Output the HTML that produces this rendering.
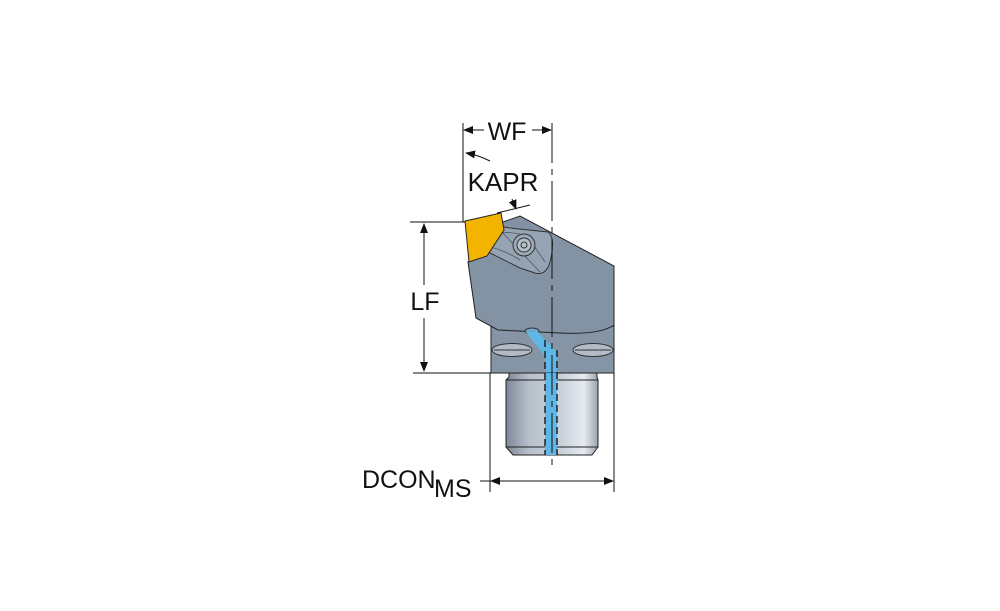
<!DOCTYPE html>
<html><head><meta charset="utf-8"><style>
body{margin:0;background:#fff}
svg{display:block}
text{font-family:"Liberation Sans",Arial,sans-serif;fill:#111}
</style></head><body>
<svg width="1000" height="611" viewBox="0 0 1000 611" xmlns="http://www.w3.org/2000/svg">
<defs>
<linearGradient id="sh" x1="0" x2="1">
<stop offset="0" stop-color="#7d8898"/><stop offset="0.25" stop-color="#b8c0cb"/>
<stop offset="0.6" stop-color="#c9d0d9"/><stop offset="0.85" stop-color="#e6ebf0"/><stop offset="1" stop-color="#9aa4b0"/>
</linearGradient>
<marker id="ar" markerWidth="10" markerHeight="8" refX="9" refY="4" orient="auto" markerUnits="userSpaceOnUse">
<path d="M0,0 L10,4 L0,8 Z" fill="#111"/></marker>
</defs>
<rect x="491" y="326" width="123" height="47" fill="#8595a6" stroke="#222" stroke-width="1"/>
<ellipse cx="512" cy="350" rx="20" ry="6.5" fill="#b1bcc8" stroke="#333"/>
<line x1="494" y1="350" x2="530" y2="350" stroke="#333"/>
<ellipse cx="593" cy="350" rx="20" ry="6.5" fill="#b1bcc8" stroke="#333"/>
<line x1="575" y1="350" x2="611" y2="350" stroke="#333"/>
<path d="M468,262 L503,222 L520,216 L614,266 L614,325 Q600,335 560,333 L498,330 L476,318 Z" fill="#8493a4" stroke="#222" stroke-width="1"/>
<path d="M480,234 Q492,224 510,228 L548,232 Q556,238 550,262 Q546,276 535,273 L520,268 Q500,258 484,250 Q474,242 480,234 Z" fill="#95a3b3" stroke="#333" stroke-width="1"/>
<path d="M484,236 Q500,230 520,234 M486,246 Q505,250 520,260 M500,230 L540,272 M530,240 L545,262" stroke="#4a5867" fill="none" stroke-width="0.8"/>
<ellipse cx="487" cy="240" rx="9" ry="5" fill="#b5c0cb" stroke="#333"/>
<circle cx="524" cy="245" r="11" fill="#9aa8b6" stroke="#333"/>
<circle cx="524" cy="245" r="7" fill="#b6c1cc" stroke="#333"/>
<circle cx="524" cy="245" r="3" fill="none" stroke="#333"/>
<path d="M465,221 L501,213 L504,230 L487,256 L469,262 Z" fill="#f3b400" stroke="#222" stroke-width="1"/>
<ellipse cx="532" cy="331" rx="7" ry="3" fill="#6fa8d0" stroke="#333"/>
<path d="M526,332 L538,332 L557,352 L557,373 L545,373 L545,356 Z" fill="#5fb7e8"/>
<path d="M509,373 L597,373 L597,377 L598,380 L598,447 L592,455 L513,455 L506,447 L506,380 L509,377 Z" fill="url(#sh)" stroke="#222"/>
<line x1="506" y1="380" x2="598" y2="380" stroke="#222"/>
<line x1="506" y1="447" x2="598" y2="447" stroke="#222"/>
<rect x="545" y="373" width="12" height="82" fill="#5fb7e8"/>
<line x1="545" y1="340" x2="545" y2="455" stroke="#222" stroke-dasharray="7,4" stroke-width="1.5"/>
<line x1="557" y1="350" x2="557" y2="455" stroke="#222" stroke-dasharray="7,4" stroke-width="1.5"/>
<line x1="552" y1="123" x2="552" y2="465" stroke="#111" stroke-dasharray="40,6,6,6" stroke-width="1"/>
<line x1="463" y1="123" x2="463" y2="222" stroke="#111"/>
<line x1="484" y1="130" x2="464" y2="130" stroke="#111" marker-end="url(#ar)"/>
<line x1="532" y1="130" x2="551" y2="130" stroke="#111" marker-end="url(#ar)"/>
<text x="507" y="140" font-size="25" text-anchor="middle">WF</text>
<path d="M490,161 Q478,155 466,153" stroke="#111" fill="none" marker-end="url(#ar)"/>
<text x="503" y="191" font-size="26" text-anchor="middle">KAPR</text>
<line x1="497" y1="213" x2="530" y2="205" stroke="#111"/>
<line x1="512" y1="199" x2="516" y2="209" stroke="#111" marker-end="url(#ar)"/>
<line x1="410" y1="222" x2="465" y2="222" stroke="#111"/>
<line x1="413" y1="373" x2="491" y2="373" stroke="#111"/>
<line x1="424" y1="285" x2="424" y2="224" stroke="#111" marker-end="url(#ar)"/>
<line x1="424" y1="318" x2="424" y2="371" stroke="#111" marker-end="url(#ar)"/>
<text x="425" y="310" font-size="25" text-anchor="middle">LF</text>
<line x1="490" y1="373" x2="490" y2="492" stroke="#111"/>
<line x1="614" y1="373" x2="614" y2="492" stroke="#111"/>
<line x1="480" y1="481" x2="491" y2="481" stroke="#111"/>
<line x1="552" y1="481" x2="491" y2="481" stroke="#111" marker-end="url(#ar)"/>
<line x1="552" y1="481" x2="613" y2="481" stroke="#111" marker-end="url(#ar)"/>
<text x="362" y="488" font-size="25">DCON</text>
<text x="434" y="497" font-size="25">MS</text>
</svg>
</body></html>
